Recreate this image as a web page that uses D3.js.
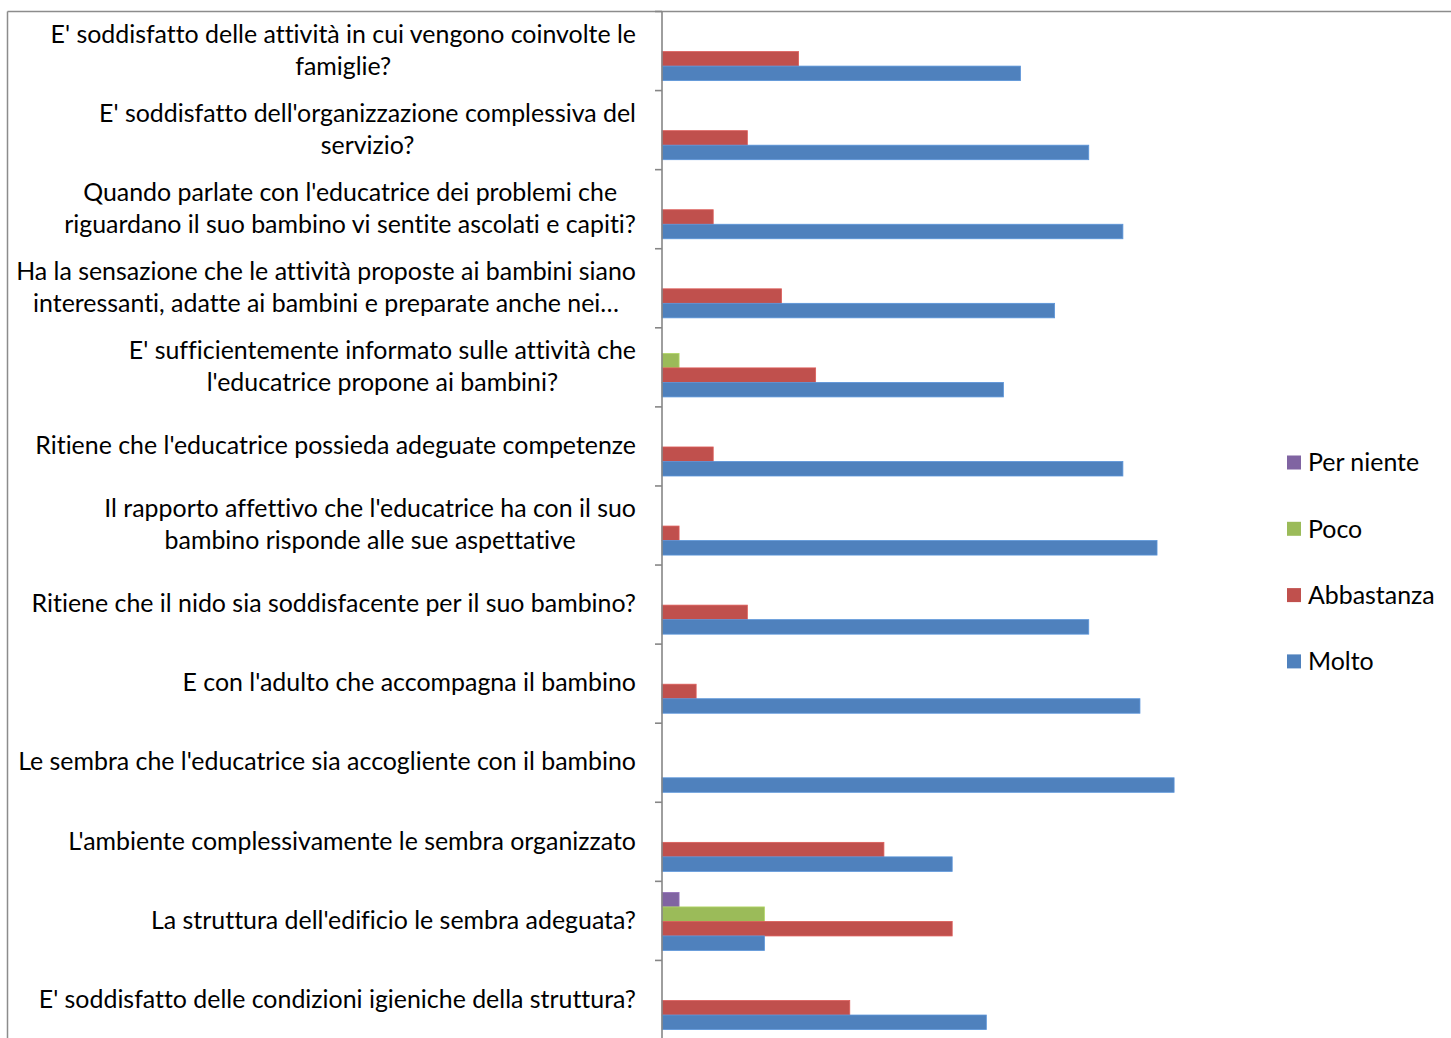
<!DOCTYPE html>
<html>
<head>
<meta charset="utf-8">
<script src="https://cdn.jsdelivr.net/npm/d3@7"></script>
<style>
  html, body { margin: 0; padding: 0; background: #fff; }
  svg { display: block; }
  text { font-family: Lato, "Open Sans", sans-serif; fill: #000; font-variant-ligatures: none; }
</style>
</head>
<body>
<svg id="chart" width="1451" height="1038"></svg>
<script>
// Survey questions (line breaks as shown in the labels)
const categories = [
  "E' soddisfatto delle attività in cui vengono coinvolte le\nfamiglie?",
  "E' soddisfatto dell'organizzazione complessiva del\nservizio?",
  "Quando parlate con l'educatrice dei problemi che\nriguardano il suo bambino vi sentite ascolati e capiti?",
  "Ha la sensazione che le attività proposte ai bambini siano\ninteressanti, adatte ai bambini e preparate anche nei…",
  "E' sufficientemente informato sulle attività che\nl'educatrice propone ai bambini?",
  "Ritiene che l'educatrice possieda adeguate competenze",
  "Il rapporto affettivo che l'educatrice ha con il suo\nbambino risponde alle sue aspettative",
  "Ritiene che il nido sia soddisfacente per il suo bambino?",
  "E con l'adulto che accompagna il bambino",
  "Le sembra che l'educatrice sia accogliente con il bambino",
  "L'ambiente complessivamente le sembra organizzato",
  "La struttura dell'edificio le sembra adeguata?",
  "E' soddisfatto delle condizioni igieniche della struttura?"
];

const seriesNames = ["Per niente", "Poco", "Abbastanza", "Molto"];
const seriesColors = ["#8064A2", "#9BBB59", "#C0504D", "#4F81BD"];

// Number of answers per question, one array per series
const perNiente  = [0, 0, 0, 0, 0, 0, 0, 0, 0, 0, 0, 1, 0];
const poco       = [0, 0, 0, 0, 1, 0, 0, 0, 0, 0, 0, 6, 0];
const abbastanza = [8, 5, 3, 7, 9, 3, 1, 5, 2, 0, 13, 17, 11];
const molto      = [21, 25, 27, 23, 20, 27, 29, 25, 28, 30, 17, 6, 19];

const seriesValues = [perNiente, poco, abbastanza, molto];

const svg = d3.select("#chart");

const axisX = 662, plotTop = 11.5, plotBottom = 1039.5;
const x = d3.scaleLinear().domain([0, 35]).range([axisX, axisX + 35 * 17.07]);
const y = d3.scaleBand().domain(d3.range(categories.length)).range([plotTop, plotBottom]);
const ySub = d3.scaleBand().domain(d3.range(seriesNames.length))
  .range([y.bandwidth() * 0.14, y.bandwidth() * 0.874]);

// Outer chart frame
svg.append("line").attr("x1", 7.5).attr("x2", 1451).attr("y1", 11.5).attr("y2", 11.5)
  .attr("stroke", "#8c8c8c").attr("stroke-width", 1.5);
svg.append("line").attr("x1", 7.5).attr("x2", 7.5).attr("y1", 11.5).attr("y2", 1038)
  .attr("stroke", "#8c8c8c").attr("stroke-width", 1.5);

// Bars
seriesValues.forEach((vals, s) => {
  svg.append("g").selectAll("rect")
    .data(vals.map((v, i) => ({ v, i })).filter(d => d.v > 0))
    .join("rect")
    .attr("x", x(0))
    .attr("y", d => y(d.i) + ySub(s))
    .attr("width", d => x(d.v) - x(0))
    .attr("height", ySub.bandwidth())
    .attr("fill", seriesColors[s])
    .attr("stroke", d3.color(seriesColors[s]).brighter(0.4))
    .attr("stroke-width", 0.8);
});

// Category axis with ticks on band boundaries
const axisG = svg.append("g");
axisG.append("line").attr("x1", axisX).attr("x2", axisX)
  .attr("y1", plotTop).attr("y2", 1038).attr("stroke", "#868686").attr("stroke-width", 1.6);
axisG.selectAll("line.tick")
  .data(d3.range(categories.length + 1))
  .join("line").attr("class", "tick")
  .attr("x1", axisX - 7).attr("x2", axisX)
  .attr("y1", i => plotTop + i * y.step()).attr("y2", i => plotTop + i * y.step())
  .attr("stroke", "#868686").attr("stroke-width", 1.6);

// Category labels: block right-aligned, lines centered within the block
const labelRight = 636;
const probe = svg.append("text").attr("font-size", 22)
  .text("Le sembra che l'educatrice sia accogliente con il bambino");
const fontSize = 22 * 618 / probe.node().getComputedTextLength();
probe.remove();

const labels = svg.append("g").attr("font-size", fontSize);
categories.forEach((c, i) => {
  const lines = c.split("\n");
  const g = labels.append("g");
  const texts = lines.map((ln, k) => g.append("text")
    .attr("text-anchor", "middle")
    .attr("dy", "0.35em")
    .attr("y", y(i) + y.bandwidth() / 2 - 1 + (k - (lines.length - 1) / 2) * 32)
    .text(ln));
  const w = d3.max(texts, t => t.node().getComputedTextLength());
  texts.forEach(t => t.attr("x", labelRight - w / 2));
});

// Legend
const legend = svg.append("g").attr("font-size", fontSize);
seriesNames.forEach((name, s) => {
  const ly = 462.5 + s * 66.3;
  legend.append("rect").attr("x", 1287).attr("y", ly - 7).attr("width", 14).attr("height", 14)
    .attr("fill", seriesColors[s]);
  legend.append("text").attr("x", 1308).attr("y", ly).attr("dy", "0.35em").text(name);
});
</script>
</body>
</html>
